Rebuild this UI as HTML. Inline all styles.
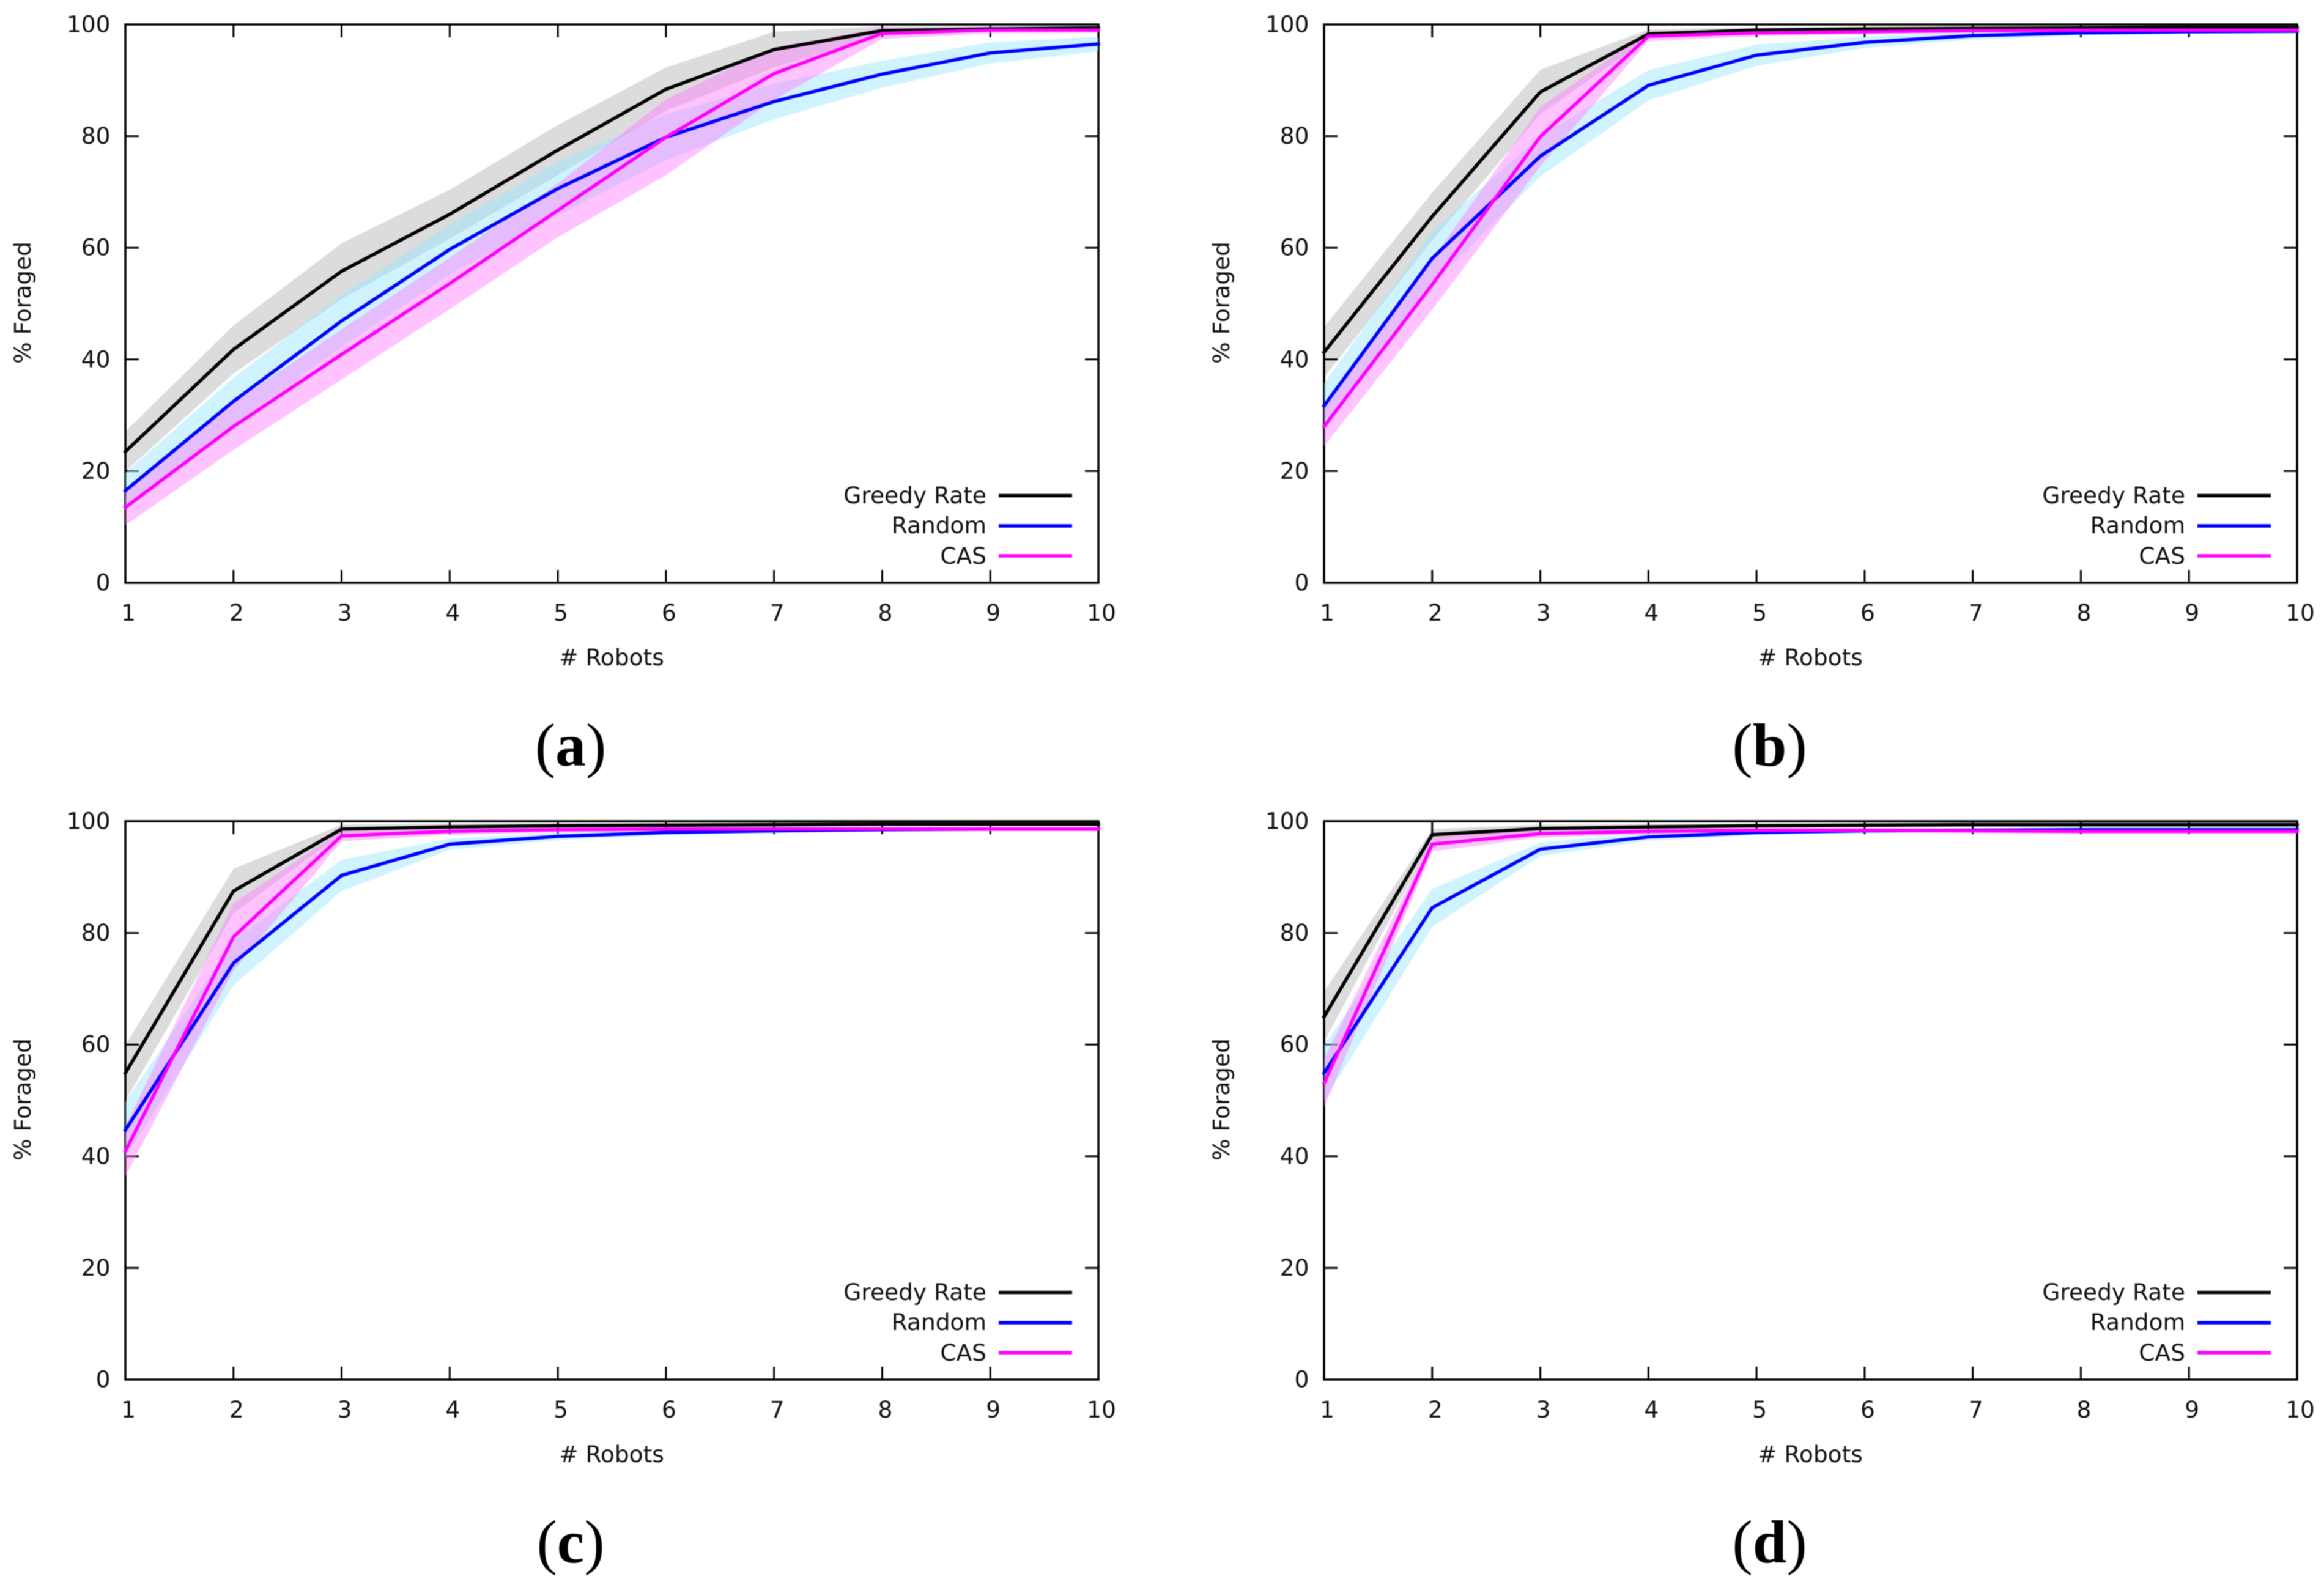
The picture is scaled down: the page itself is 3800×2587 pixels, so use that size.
<!DOCTYPE html>
<html lang="en">
<head>
<meta charset="utf-8">
<title>% Foraged vs # Robots</title>
<style>
html,body{margin:0;padding:0;background:#fff;}
#figure{display:block;filter:blur(0.7px);}
text{font-family:"DejaVu Sans","Liberation Sans",sans-serif;font-size:37.5px;fill:#111;}
.panel-label{font-family:"Liberation Serif",serif;font-size:100px;font-weight:bold;fill:#000;text-anchor:middle;}
.panel-label .paren{font-weight:normal;}
.axis-title{text-anchor:middle;}
.legend-text{text-anchor:end;}
</style>
</head>
<body>
<svg id="figure" xmlns="http://www.w3.org/2000/svg" width="3800" height="2587" viewBox="0 0 3800 2587">
  <rect width="3800" height="2587" fill="#fff"/>

  <g id="panel-a">
    <text class="axis-title" x="1000" y="1088"># Robots</text>
    <text class="axis-title" transform="translate(50,495) rotate(-90)">% Foraged</text>
    <g class="marks"></g>
    <g>
      <text class="legend-text" x="1613" y="823">Greedy Rate</text>
      <text class="legend-text" x="1613" y="872">Random</text>
      <text class="legend-text" x="1613" y="922">CAS</text>
      <line x1="1633" x2="1753" y1="810.5" y2="810.5" stroke="#000" stroke-width="5.5"/>
      <line x1="1633" x2="1753" y1="860" y2="860" stroke="#0000ff" stroke-width="5.5"/>
      <line x1="1633" x2="1753" y1="909" y2="909" stroke="#ff00ff" stroke-width="5.5"/>
    </g>
    <text class="panel-label" x="933" y="1252"><tspan class="paren">(</tspan>a<tspan class="paren">)</tspan></text>
  </g>

  <g id="panel-b" transform="translate(1960,0)">
    <text class="axis-title" x="1000" y="1088"># Robots</text>
    <text class="axis-title" transform="translate(50,495) rotate(-90)">% Foraged</text>
    <g class="marks"></g>
    <g>
      <text class="legend-text" x="1613" y="823">Greedy Rate</text>
      <text class="legend-text" x="1613" y="872">Random</text>
      <text class="legend-text" x="1613" y="922">CAS</text>
      <line x1="1633" x2="1753" y1="810.5" y2="810.5" stroke="#000" stroke-width="5.5"/>
      <line x1="1633" x2="1753" y1="860" y2="860" stroke="#0000ff" stroke-width="5.5"/>
      <line x1="1633" x2="1753" y1="909" y2="909" stroke="#ff00ff" stroke-width="5.5"/>
    </g>
    <text class="panel-label" x="933.5" y="1252"><tspan class="paren">(</tspan>b<tspan class="paren">)</tspan></text>
  </g>

  <g id="panel-c" transform="translate(0,1303)">
    <text class="axis-title" x="1000" y="1088"># Robots</text>
    <text class="axis-title" transform="translate(50,495) rotate(-90)">% Foraged</text>
    <g class="marks"></g>
    <g>
      <text class="legend-text" x="1613" y="823">Greedy Rate</text>
      <text class="legend-text" x="1613" y="872">Random</text>
      <text class="legend-text" x="1613" y="922">CAS</text>
      <line x1="1633" x2="1753" y1="810.5" y2="810.5" stroke="#000" stroke-width="5.5"/>
      <line x1="1633" x2="1753" y1="860" y2="860" stroke="#0000ff" stroke-width="5.5"/>
      <line x1="1633" x2="1753" y1="909" y2="909" stroke="#ff00ff" stroke-width="5.5"/>
    </g>
    <text class="panel-label" x="933" y="1252"><tspan class="paren">(</tspan>c<tspan class="paren">)</tspan></text>
  </g>

  <g id="panel-d" transform="translate(1960,1303)">
    <text class="axis-title" x="1000" y="1088"># Robots</text>
    <text class="axis-title" transform="translate(50,495) rotate(-90)">% Foraged</text>
    <g class="marks"></g>
    <g>
      <text class="legend-text" x="1613" y="823">Greedy Rate</text>
      <text class="legend-text" x="1613" y="872">Random</text>
      <text class="legend-text" x="1613" y="922">CAS</text>
      <line x1="1633" x2="1753" y1="810.5" y2="810.5" stroke="#000" stroke-width="5.5"/>
      <line x1="1633" x2="1753" y1="860" y2="860" stroke="#0000ff" stroke-width="5.5"/>
      <line x1="1633" x2="1753" y1="909" y2="909" stroke="#ff00ff" stroke-width="5.5"/>
    </g>
    <text class="panel-label" x="933.5" y="1252"><tspan class="paren">(</tspan>d<tspan class="paren">)</tspan></text>
  </g>
</svg>

<script>
// Axis data
const robotCounts = [1,2,3,4,5,6,7,8,9,10];
const xTickLabels = ["1","2","3","4","5","6","7","8","9","10"];
const yTickValues = [0,20,40,60,80,100];
const yTickLabels = ["0","20","40","60","80","100"];

// Panel (a)
const aGreedy = [23.5,41.8,55.8,66,77.5,88.4,95.5,98.9,99.2,99.4];
const aGreedyErr = [3.6,4.3,5,4.4,4.5,3.9,3.2,0.8,0.5,0.4];
const aRandom = [16.5,32.5,46.9,59.7,70.6,79.8,86.2,91.1,94.9,96.5];
const aRandomErr = [3.2,4.2,4.7,4.5,4.8,4.1,3.2,2.4,1.9,1.3];
const aCas = [13.5,28,40.9,53.6,66.7,79.8,91.2,98.4,99,99];
const aCasErr = [3.2,4.2,4.5,4.6,4.8,6.8,4.7,1,0.6,0.5];

// Panel (b)
const bGreedy = [41.3,65.6,87.9,98.3,99,99.2,99.3,99.4,99.5,99.5];
const bGreedyErr = [4.5,4.3,4,0.8,0.5,0.4,0.4,0.4,0.4,0.4];
const bRandom = [31.7,58.1,76.4,89.1,94.5,96.8,98,98.5,98.7,98.8];
const bRandomErr = [4,4.8,3.6,2.7,1.9,1,0.7,0.5,0.4,0.4];
const bCas = [28,53.4,79.9,97.9,98.5,98.7,98.9,99,99,99];
const bCasErr = [3.5,4.5,5.3,0.9,0.6,0.5,0.4,0.4,0.4,0.4];

// Panel (c)
const cGreedy = [54.9,87.5,98.6,99,99.2,99.3,99.4,99.5,99.5,99.5];
const cGreedyErr = [5,4,0.8,0.6,0.5,0.4,0.4,0.4,0.4,0.4];
const cRandom = [44.7,74.6,90.3,95.9,97.3,98,98.3,98.5,98.6,98.6];
const cRandomErr = [5,4,2.8,1,0.7,0.5,0.4,0.3,0.3,0.3];
const cCas = [40.9,79.3,97.4,98.2,98.5,98.6,98.6,98.6,98.6,98.6];
const cCasErr = [4.5,6,1,0.6,0.5,0.4,0.4,0.4,0.4,0.4];

// Panel (d)
const dGreedy = [65,97.6,98.7,99,99.2,99.3,99.4,99.4,99.4,99.4];
const dGreedyErr = [4.5,1,0.7,0.5,0.4,0.4,0.4,0.4,0.4,0.4];
const dRandom = [54.9,84.5,95,97.2,98,98.3,98.4,98.5,98.5,98.5];
const dRandomErr = [5,3.4,1.2,0.7,0.5,0.4,0.3,0.3,0.3,0.3];
const dCas = [53.1,95.9,97.8,98.2,98.4,98.4,98.3,98.2,98.2,98.2];
const dCasErr = [4.3,1.3,0.7,0.5,0.4,0.4,0.4,0.4,0.4,0.4];

const SVG_NS = "http://www.w3.org/2000/svg";
const PLOT_LEFT = 205, PLOT_RIGHT = 1796, PLOT_TOP = 40, PLOT_BOTTOM = 953;
const xScale = v => PLOT_LEFT + (v - robotCounts[0]) / (robotCounts[robotCounts.length-1] - robotCounts[0]) * (PLOT_RIGHT - PLOT_LEFT);
const yScale = v => PLOT_BOTTOM - (v - 0) / 100 * (PLOT_BOTTOM - PLOT_TOP);

function make(parent, tag, props) {
  const el = document.createElementNS(SVG_NS, tag);
  for (const k in props) el.setAttribute(k, props[k]);
  parent.appendChild(el);
  return el;
}

function drawTick(parent, x1, y1, x2, y2) {
  const tick = make(parent, "line", {x1:x1, y1:y1, x2:x2, y2:y2, stroke:"#000", "stroke-width":3});
  
  
}

function drawAxes(root) {
  const axes = make(root, "g", {});
  
  
  robotCounts.forEach((v, i) => {
    const x = xScale(v);
    if (i > 0 && i < robotCounts.length - 1) {
      drawTick(axes, x, PLOT_BOTTOM, x, PLOT_BOTTOM - 21);
      drawTick(axes, x, PLOT_TOP, x, PLOT_TOP + 21);
    }
    const label = make(axes, "text", {x:x + 5, y:PLOT_BOTTOM + 62, "text-anchor":"middle"});
    label.textContent = xTickLabels[i];
    
    
  });
  yTickValues.forEach((v, i) => {
    const y = yScale(v);
    if (i > 0 && i < yTickValues.length - 1) {
      drawTick(axes, PLOT_LEFT, y, PLOT_LEFT + 22, y);
      drawTick(axes, PLOT_RIGHT, y, PLOT_RIGHT - 22, y);
    }
    const label = make(axes, "text", {x:180.5, y:y + 12.5, "text-anchor":"end"});
    label.textContent = yTickLabels[i];
    
    
  });
  const frame = make(axes, "rect", {x:PLOT_LEFT, y:PLOT_TOP, width:PLOT_RIGHT-PLOT_LEFT, height:PLOT_BOTTOM-PLOT_TOP, fill:"none", stroke:"#000", "stroke-width":3.5});
  
  
}

function drawBand(root, values, errs, fill, alpha, name) {
  const upper = values.map((v, i) => xScale(robotCounts[i]) + "," + yScale(Math.min(100, v + errs[i])));
  const lower = values.map((v, i) => xScale(robotCounts[i]) + "," + yScale(v - errs[i])).reverse();
  const band = make(root, "polygon", {points:upper.concat(lower).join(" "), fill:fill, "fill-opacity":alpha});
  
  
}

function drawLine(root, values, stroke, name) {
  const pts = values.map((v, i) => xScale(robotCounts[i]) + "," + yScale(v)).join(" ");
  const line = make(root, "polyline", {points:pts, fill:"none", stroke:stroke, "stroke-width":5.5, "stroke-linejoin":"round", "stroke-linecap":"square"});
  
  
}

function drawPanel(id, greedy, greedyErr, random, randomErr, cas, casErr) {
  const root = document.querySelector("#" + id + " .marks");
  drawAxes(root);
  drawBand(root, greedy, greedyErr, "#000000", 0.137, "greedy-rate");
  drawBand(root, random, randomErr, "#99e6ff", 0.47, "random");
  drawBand(root, cas, casErr, "#ff7cff", 0.45, "cas");
  drawLine(root, greedy, "#000000", "greedy-rate");
  drawLine(root, random, "#0000ff", "random");
  drawLine(root, cas, "#ff00ff", "cas");
}

drawPanel("panel-a", aGreedy, aGreedyErr, aRandom, aRandomErr, aCas, aCasErr);
drawPanel("panel-b", bGreedy, bGreedyErr, bRandom, bRandomErr, bCas, bCasErr);
drawPanel("panel-c", cGreedy, cGreedyErr, cRandom, cRandomErr, cCas, cCasErr);
drawPanel("panel-d", dGreedy, dGreedyErr, dRandom, dRandomErr, dCas, dCasErr);
</script>
</body>
</html>
